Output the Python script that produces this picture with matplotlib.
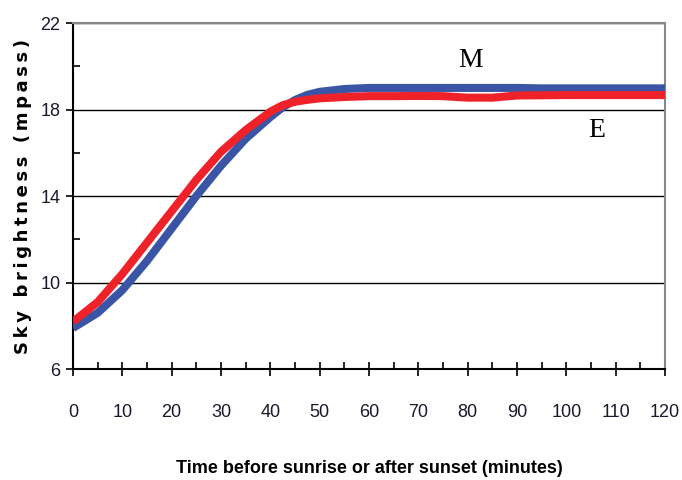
import numpy as np
import matplotlib.pyplot as plt
from matplotlib.ticker import MultipleLocator

# minutes before sunrise / after sunset
minutes = [0, 5, 10, 15, 20, 25, 30, 35, 40, 42.5, 45, 47.5, 50, 55, 60, 65, 70, 75,
           80, 85, 90, 95, 100, 105, 110, 115, 120]
# morning (M) and evening (E) sky brightness, mag/arcsec^2
morning = [7.9, 8.6, 9.65, 11.0, 12.5, 14.0, 15.4, 16.65, 17.65, 18.1, 18.44, 18.68, 18.82, 18.95,
           19.0, 19.0, 19.0, 19.0, 19.0, 19.0, 19.0, 18.98, 18.98, 18.98, 18.98, 18.98, 18.98]
evening = [8.19, 9.1, 10.4, 11.85, 13.3, 14.75, 16.05, 17.05, 17.9, 18.2, 18.36, 18.45, 18.52, 18.58,
           18.62, 18.62, 18.63, 18.62, 18.55, 18.55, 18.65, 18.66, 18.67, 18.67, 18.67, 18.67, 18.67]

y_ticks = [6, 10, 14, 18, 22]
x_ticks = list(range(0, 121, 10))

fig = plt.figure(figsize=(6.82, 4.8), dpi=100)
ax = fig.add_axes([0.107, 0.231, 0.868, 0.721])

ax.plot(minutes, morning, color='#3a55a6', lw=5.8, solid_capstyle='butt',
        solid_joinstyle='round', zorder=3)
ax.plot(minutes, evening, color='#ee2228', lw=5.8, solid_capstyle='butt',
        solid_joinstyle='round', zorder=4)

ax.set_xlim(0, 120)
ax.set_ylim(6, 22)
ax.set_xticks(x_ticks)
ax.set_yticks(y_ticks)
ax.xaxis.set_minor_locator(MultipleLocator(5))
ax.yaxis.set_minor_locator(MultipleLocator(2))
ax.grid(axis='y', which='major', color='black', lw=1.0, zorder=1)

for side in ['top', 'right']:
    ax.spines[side].set_color('#888888')
    ax.spines[side].set_linewidth(1.5)
for side in ['left', 'bottom']:
    ax.spines[side].set_linewidth(1.5)

ax.tick_params(axis='x', which='major', direction='inout', length=10, width=1.2, pad=20)
ax.tick_params(axis='x', which='minor', direction='in', length=5, width=1.2)
ax.tick_params(axis='y', which='major', direction='out', length=5, width=1.2, pad=4)
ax.tick_params(axis='y', which='minor', direction='in', length=5, width=1.2)

for lab in ax.get_xticklabels() + ax.get_yticklabels():
    lab.set_family('Liberation Sans')
    lab.set_fontsize(13)
    lab.set_color('#1a1a2e')

ax.set_xlabel('Time before sunrise or after sunset (minutes)', family='Liberation Sans',
              fontsize=13, fontweight='bold', labelpad=28)
ax.set_ylabel('\u2009'.join('Sky brightness (mpass)'), family='DejaVu Sans',
              fontsize=13, fontweight='bold', labelpad=6)

ax.text(80.5, 20.25, 'M', family='Liberation Serif', fontsize=20, ha='center', va='center')
ax.text(106.2, 17.05, 'E', family='Liberation Serif', fontsize=20, ha='center', va='center')

fig.savefig('out.png', dpi=100)
